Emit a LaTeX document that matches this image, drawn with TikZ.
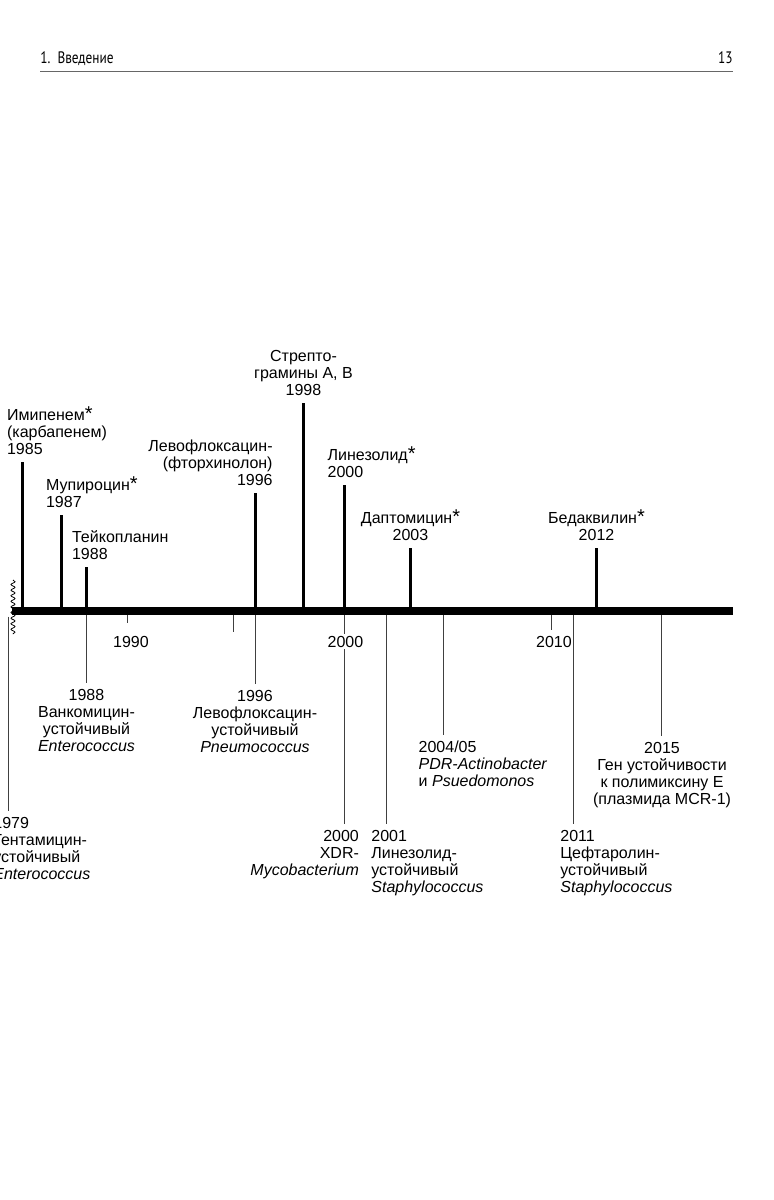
\documentclass[tikz,border=0pt]{standalone}
\usepackage{fontspec}
\setmainfont{Liberation Sans}
\newfontfamily\headfont[FakeStretch=0.8]{PT Sans}
\usetikzlibrary{decorations.pathmorphing}
\newcommand\newab{{\fontsize{10}{10}\selectfont *}}

\begin{document}
\begin{tikzpicture}[x=0.5pt,y=-0.5pt,
  lbl/.style={font=\fontsize{8}{8.5}\selectfont,inner sep=0pt},
  head/.style={font=\headfont\fontsize{8.3}{10}\selectfont,inner sep=0pt},
  up/.style={line width=1.5pt,shorten >=3.25pt},
  down/.style={line width=0.55pt,black!75,shorten >=2.75pt},
  tick/.style={line width=0.55pt,black!75},
  axis/.style={line width=4pt},
  brk/.style={line width=0.4pt,decorate,decoration={snake,amplitude=1pt,segment length=2.8pt}}]
    \useasboundingbox (0,0) rectangle (773,1200);
    % running head
    \node[head,anchor=base west] (chap) at (40,63) {1.\ \ Введение};
    \node[head,anchor=base east] (page) at (733,63) {13};
    \draw[line width=0.65pt,black!60] (chap.west |- 0,71.5) -- (page.east |- 0,71.5);
    % years on the axis
    \foreach \n/\x in {1985/22.5,1987/61.5,1988/86.5,1990/127.5,1995/233.5,1996/255.5,1998/303.5,2000/344.5,2001/386.5,2003/410.5,2004/443.5,2010/551.5,2011/573.5,2012/596.5,2015/661.5}
        \coordinate (y\n) at (\x,611);
    \coordinate (y1979) at (8.5,616.5);
    % new drugs
    \node[lbl,align=left,anchor=south west] (imipenem) at (6.7,455) {Имипенем\newab\\(карбапенем)\\1985};
    \node[lbl,align=left,anchor=south west] (mupirocin) at (45.7,508.5) {Мупироцин\newab\\1987};
    \node[lbl,align=left,anchor=south west] (teicoplanin) at (71.7,560.5) {Тейкопланин\\1988};
    \node[lbl,align=right,anchor=south east] (levo) at (273,486) {Левофлоксацин-\\(фторхинолон)\\1996};
    \node[lbl,align=center,anchor=south] (strepto) at (303.5,396) {Стрепто-\\грамины A, B\\1998};
    \node[lbl,align=left,anchor=south west] (linezolid) at (327.3,478) {Линезолид\newab\\2000};
    \node[lbl,align=center,anchor=south] (dapto) at (410.5,541.5) {Даптомицин\newab\\2003};
    \node[lbl,align=center,anchor=south] (beda) at (596.5,541.5) {Бедаквилин\newab\\2012};
    % resistance
    \node[lbl,align=left,anchor=north west] (genta) at (-7,816.7) {1979\\Гентамицин-\\устойчивый\\\textit{Enterococcus}};
    \node[lbl,align=center,anchor=north] (vre) at (86.5,688.5) {1988\\Ванкомицин-\\устойчивый\\\textit{Enterococcus}};
    \node[lbl,align=center,anchor=north] (levores) at (255,689.5) {1996\\Левофлоксацин-\\устойчивый\\\textit{Pneumococcus}};
    \node[lbl,align=right,anchor=north east] (xdr) at (359.3,829.5) {2000\\XDR-\\\textit{Mycobacterium}};
    \node[lbl,align=left,anchor=north west] (lzdres) at (371,829.5) {2001\\Линезолид-\\устойчивый\\\textit{Staphylococcus}};
    \node[lbl,align=left,anchor=north west] (pdr) at (418.3,740.5) {2004/05\\\textit{PDR-Actinobacter}\\и \textit{Psuedomonos}};
    \node[lbl,align=left,anchor=north west] (cefta) at (560,829.5) {2011\\Цефтаролин-\\устойчивый\\\textit{Staphylococcus}};
    \node[lbl,align=center,anchor=north] (mcr) at (662,741.5) {2015\\Ген устойчивости\\к полимиксину E\\(плазмида MCR-1)};
    \foreach \n/\l in {1985/imipenem,1987/mupirocin,1988/teicoplanin,1996/levo,1998/strepto,2000/linezolid,2003/dapto,2012/beda}
        \draw[up] (y\n) -- (y\n |- \l.south);
    \foreach \n/\l in {1979/genta,1988/vre,1996/levores,2000/xdr,2001/lzdres,2004/pdr,2011/cefta,2015/mcr}
        \draw[down] (y\n) -- (y\n |- \l.north);
    % ticks
    \draw[tick] (y1990) -- ++(0,12);
    \draw[tick] (y1995) -- ++(0,21);
    \draw[tick] (y2010) -- ++(0,19);
    \node[lbl,anchor=north] (t1990) at (131,635.5) {1990};
    \node[lbl,anchor=north,fill=white,inner sep=1pt] (t2000) at (345.5,633.5) {2000};
    \node[lbl,anchor=north] (t2010) at (554,635.5) {2010};
    % axis with break
    \draw[brk] (13,580) -- (13,634);
    \draw[axis] (12,611) coordinate (start) -- (733,611) coordinate (end);
\end{tikzpicture}
\end{document}
